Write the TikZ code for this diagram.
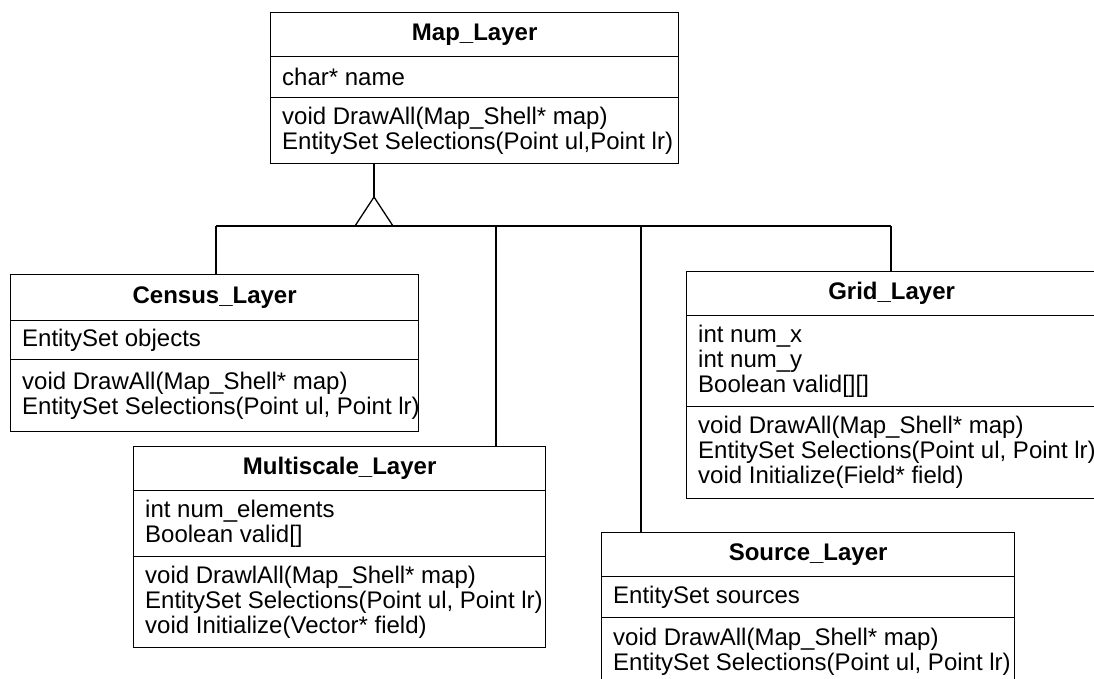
\documentclass[tikz,border=0pt]{standalone}
\usepackage{fontspec}
\setmainfont{Liberation Sans}
\begin{document}
\begin{tikzpicture}[x=1pt,y=-1pt,
  box/.style={draw, line width=1.3pt, anchor=north west, inner sep=0pt},
  txt/.style={anchor=west, inner sep=0pt, align=left,
    font=\fontsize{24}{25}\selectfont},
  ttl/.style={inner sep=0pt, font=\fontsize{24}{25}\selectfont\bfseries},
  conn/.style={line width=1.3pt}]
\useasboundingbox (0,0) rectangle (1094,679);

% Map_Layer
\node[box, minimum width=408pt, minimum height=44pt] (map) at (270,12) {};
\node[ttl] (mapT) at (map.center) {Map\_Layer};
\node[box, minimum width=408pt, minimum height=41pt] (mapA) at (270,56) {};
\node[txt] (mapAt) at ([xshift=12pt]mapA.west) {char* name};
\node[box, minimum width=408pt, minimum height=66pt] (mapM) at (270,97) {};
\node[txt] (mapMt) at ([xshift=12pt]mapM.west)
  {void DrawAll(Map\_Shell* map)\\EntitySet Selections(Point ul,Point lr)};

% Census_Layer
\node[box, minimum width=408pt, minimum height=46pt] (census) at (10,274) {};
\node[ttl] (censusT) at (census.center) {Census\_Layer};
\node[box, minimum width=408pt, minimum height=39pt] (censusA) at (10,320) {};
\node[txt] (censusAt) at ([xshift=12pt]censusA.west) {EntitySet objects};
\node[box, minimum width=408pt, minimum height=72pt] (censusM) at (10,359) {};
\node[txt] (censusMt) at ([xshift=12pt]censusM.west)
  {void DrawAll(Map\_Shell* map)\\EntitySet Selections(Point ul, Point lr)};

% Multiscale_Layer
\node[box, minimum width=412pt, minimum height=44pt] (multi) at (133,446) {};
\node[ttl] (multiT) at (multi.center) {Multiscale\_Layer};
\node[box, minimum width=412pt, minimum height=66pt] (multiA) at (133,490) {};
\node[txt] (multiAt) at ([xshift=12pt]multiA.west)
  {int num\_elements\\Boolean valid[]};
\node[box, minimum width=412pt, minimum height=91pt] (multiM) at (133,556) {};
\node[txt] (multiMt) at ([xshift=12pt]multiM.west)
  {void DrawlAll(Map\_Shell* map)\\EntitySet Selections(Point ul, Point lr)\\void Initialize(Vector* field)};

% Grid_Layer
\node[box, minimum width=410pt, minimum height=44pt] (grid) at (686,271) {};
\node[ttl] (gridT) at (grid.center) {Grid\_Layer};
\node[box, minimum width=410pt, minimum height=91pt] (gridA) at (686,315) {};
\node[txt] (gridAt) at ([xshift=12pt]gridA.west)
  {int num\_x\\int num\_y\\Boolean valid[][]};
\node[box, minimum width=410pt, minimum height=92pt] (gridM) at (686,406) {};
\node[txt] (gridMt) at ([xshift=12pt]gridM.west)
  {void DrawAll(Map\_Shell* map)\\EntitySet Selections(Point ul, Point lr)\\void Initialize(Field* field)};

% Source_Layer
\node[box, minimum width=413pt, minimum height=44pt] (source) at (601,532) {};
\node[ttl] (sourceT) at (source.center) {Source\_Layer};
\node[box, minimum width=413pt, minimum height=41pt] (sourceA) at (601,576) {};
\node[txt] (sourceAt) at ([xshift=12pt]sourceA.west) {EntitySet sources};
\node[box, minimum width=413pt, minimum height=68pt] (sourceM) at (601,617) {};
\node[txt] (sourceMt) at ([xshift=12pt]sourceM.west)
  {void DrawAll(Map\_Shell* map)\\EntitySet Selections(Point ul, Point lr)};

% Generalization connectors
\coordinate (apex) at (374,197);
\coordinate (tl) at (355,226);
\coordinate (tr) at (393,226);
\coordinate (busL) at (216,226);
\coordinate (bMulti) at (496,226);
\coordinate (bSource) at (641,226);
\coordinate (bGrid) at (891,226);
\draw[conn] (mapM.south -| apex) -- (apex);
\draw[conn] (apex) -- (tl) -- (tr) -- cycle;
\draw[conn] (busL) -- (bGrid);
\draw[conn] (busL) -- (busL |- census.north);
\draw[conn] (bMulti) -- (bMulti |- multi.north);
\draw[conn] (bSource) -- (bSource |- source.north);
\draw[conn] (bGrid) -- (bGrid |- grid.north);
\end{tikzpicture}
\end{document}
